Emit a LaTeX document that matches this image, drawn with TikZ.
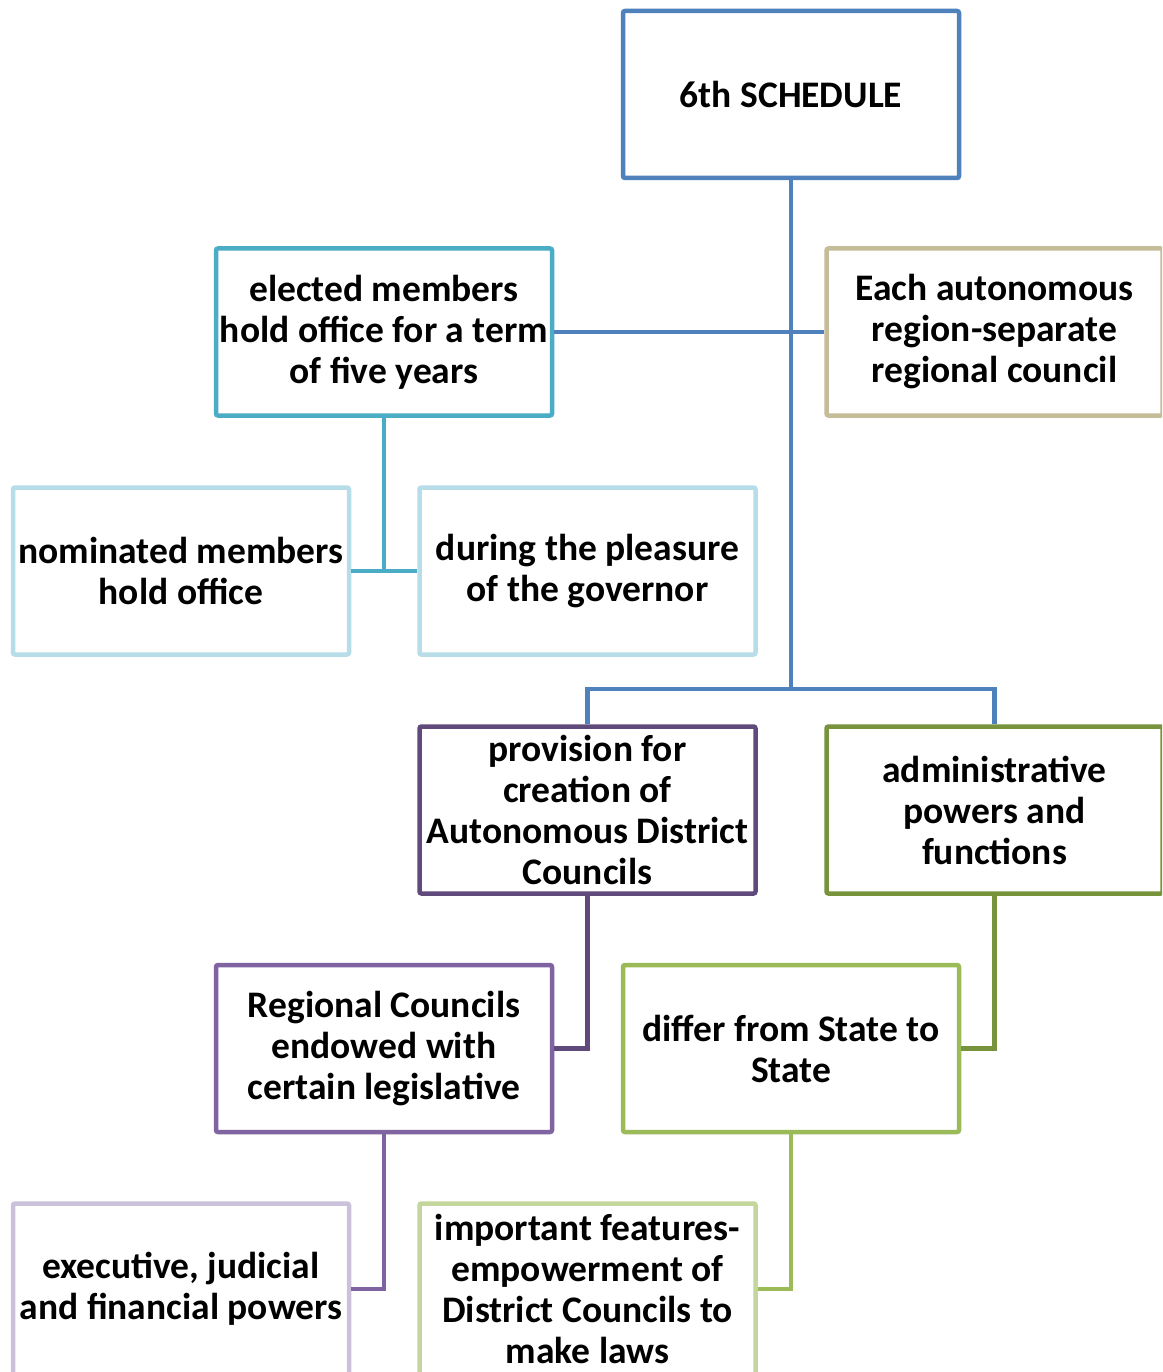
\documentclass[tikz,border=0pt]{standalone}
\usepackage{fontspec}
\setmainfont{Carlito}
\definecolor{cBlue}{HTML}{4F81BD}
\definecolor{cCyan}{HTML}{4BACC6}
\definecolor{cTan}{HTML}{C4BD97}
\definecolor{cLightBlue}{HTML}{B7DEE8}
\definecolor{cDarkPurple}{HTML}{604A7B}
\definecolor{cPurple}{HTML}{8064A2}
\definecolor{cLightPurple}{HTML}{CCC1DA}
\definecolor{cGreen}{HTML}{77933C}
\definecolor{cLightGreen}{HTML}{9BBB59}
\definecolor{cPaleGreen}{HTML}{C3D69B}
\begin{document}
\begin{tikzpicture}[x=1pt,y=-1pt,
  box/.style={draw=#1, line width=4.5pt, fill=white, rounded corners=2pt,
    minimum width=336pt, minimum height=167pt, inner sep=0pt, align=center,
    font=\fontsize{37.5}{41}\selectfont\bfseries},
  lowbox/.style={box=#1, minimum height=171pt},
  conn/.style={line width=4.5pt, draw=#1}]
\useasboundingbox (0,0) rectangle (1162,1372);
\clip (0,0) rectangle (1162,1372);
\fill[white] (0,0) rectangle (1162,1372);

\node[box=cBlue] (s6) at (791,94.5) {6th SCHEDULE};
\node[box=cCyan] (elec) at (384,332) {elected members\\hold office for a term\\of five years};
\node[box=cTan] (each) at (994.5,332) {Each autonomous\\region-separate\\regional council};
\node[box=cLightBlue] (nom) at (181,571) {nominated members\\hold office};
\node[box=cLightBlue] (pleas) at (587.5,571) {during the pleasure\\of the governor};
\node[box=cDarkPurple] (prov) at (587.5,810) {provision for\\creation of\\Autonomous District\\Councils};
\node[box=cGreen] (adm) at (994.5,810) {administrative\\powers and\\functions};
\node[box=cPurple] (reg) at (384,1048.5) {Regional Councils\\endowed with\\certain legislative};
\node[box=cLightGreen] (diff) at (791,1048.5) {differ from State to\\State};
\node[lowbox=cLightPurple] (exe) at (181,1289) {executive, judicial\\and financial powers};
\node[lowbox=cPaleGreen] (imp) at (587.5,1289) {important features-\\empowerment of\\District Councils to\\make laws};

\coordinate (jb) at (791,689);
\coordinate (jc) at (384,571);

\draw[conn=cBlue] (s6.south) -- (jb);
\draw[conn=cBlue] (prov.north) |- (jb) -| (adm.north);
\draw[conn=cBlue] (elec.east) -- (each.west);
\draw[conn=cCyan] (elec.south) -- (jc);
\draw[conn=cCyan] (nom.east) -- (pleas.west);
\draw[conn=cDarkPurple] (prov.south) |- (reg.east);
\draw[conn=cPurple] (reg.south) |- (exe.east);
\draw[conn=cGreen] (adm.south) |- (diff.east);
\draw[conn=cLightGreen] (diff.south) |- (imp.east);
\end{tikzpicture}
\end{document}
